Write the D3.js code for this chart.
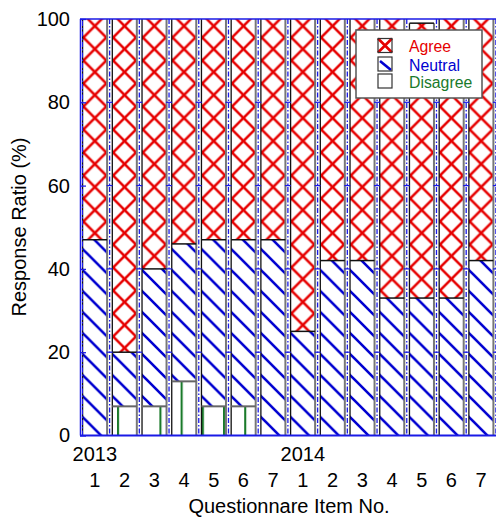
<!DOCTYPE html>
<html><head><meta charset="utf-8">
<script src="https://cdn.jsdelivr.net/npm/d3@7"></script>
<style>body{margin:0;background:#fff;} svg{display:block;font-family:"Liberation Sans",Arial,sans-serif;}</style>
</head><body>
<script>
const items = ['1','2','3','4','5','6','7','1','2','3','4','5','6','7'];
const years = ['2013','2014'];
const yearStart = [0, 7];
const disagree = [0,7,7,13,7,7,0, 0,0,0,0,0,0,0];
const neutral  = [47,13,33,33,40,40,47, 25,42,42,33,33,33,42];
const agree    = [53,80,60,54,53,53,53, 75,58,58,67,66,67,58];
const yTicks = [0,20,40,60,80,100];
const seriesNames = ['Agree','Neutral','Disagree'];
const seriesColors = ['#e60000','#0000d0','#1a7a2a'];

const W = 496, H = 521;
const svg = d3.select('body').append('svg').attr('width', W).attr('height', H);
const defs = svg.append('defs');

const idx = d3.range(items.length);
const x = d3.scaleBand().domain(idx).range([80, 496]).paddingInner(0.175).paddingOuter(0.0875);
const y = d3.scaleLinear().domain([0, 100]).range([435.5, 19]);
const bw = x.bandwidth();

// patterns per bar
const sA = 23, sN = 21;
idx.forEach(i => {
  const cx = x(i) + bw / 2;
  const pa = defs.append('pattern').attr('id', 'pa' + i).attr('patternUnits', 'userSpaceOnUse')
    .attr('width', sA).attr('height', sA).attr('x', cx - sA / 2).attr('y', 164 - sA / 2);
  const h = sA / 2;
  pa.append('path').attr('d',
      `M0,0L${sA},${sA}M${-h},${h}L${h},${sA + h}M${h},${-h}L${sA + h},${h}` +
      `M0,${sA}L${sA},0M${-h},${h}L${h},${-h}M${h},${sA + h}L${sA + h},${h}`)
    .attr('stroke', seriesColors[0]).attr('stroke-width', 2.6).attr('fill', 'none');
  const pn = defs.append('pattern').attr('id', 'pn' + i).attr('patternUnits', 'userSpaceOnUse')
    .attr('width', sN).attr('height', sN).attr('x', x(i) + 3).attr('y', 0);
  const hn = sN / 2;
  pn.append('path').attr('d', `M0,0L${sN},${sN}M${-hn},${hn}L${hn},${sN + hn}M${hn},${-hn}L${sN + hn},${hn}`)
    .attr('stroke', seriesColors[1]).attr('stroke-width', 2.6).attr('fill', 'none');
});
const pd = defs.append('pattern').attr('id', 'pd').attr('patternUnits', 'userSpaceOnUse')
  .attr('width', 21.2).attr('height', 10).attr('x', 117).attr('y', 0);
pd.append('line').attr('x1', 1).attr('x2', 1).attr('y1', -1).attr('y2', 11)
  .attr('stroke', seriesColors[2]).attr('stroke-width', 2.2);

const g = svg.append('g');
// segments
idx.forEach(i => {
  const d0 = disagree[i], n1 = d0 + neutral[i], t = n1 + agree[i];
  if (d0 > 0) g.append('rect').attr('x', x(i)).attr('width', bw).attr('y', y(d0)).attr('height', y(0) - y(d0)).attr('fill', 'url(#pd)');
  g.append('rect').attr('x', x(i)).attr('width', bw).attr('y', y(n1)).attr('height', y(d0) - y(n1)).attr('fill', `url(#pn${i})`);
  g.append('rect').attr('x', x(i)).attr('width', bw).attr('y', y(t)).attr('height', y(n1) - y(t)).attr('fill', `url(#pa${i})`);
  // outlines
  g.append('line').attr('x1', x(i)).attr('x2', x(i)).attr('y1', y(0)).attr('y2', y(t)).attr('stroke', '#111').attr('stroke-width', 1.3);
  g.append('line').attr('x1', x(i) + bw).attr('x2', x(i) + bw).attr('y1', y(0)).attr('y2', y(t)).attr('stroke', '#777').attr('stroke-width', 2);
  g.append('line').attr('x1', x(i)).attr('x2', x(i) + bw).attr('y1', y(n1)).attr('y2', y(n1)).attr('stroke', '#111').attr('stroke-width', 1.5);
  if (d0 > 0) g.append('line').attr('x1', x(i)).attr('x2', x(i) + bw).attr('y1', y(d0)).attr('y2', y(d0)).attr('stroke', '#666').attr('stroke-width', 2);
  if (t < 100) g.append('line').attr('x1', x(i)).attr('x2', x(i) + bw).attr('y1', y(t)).attr('y2', y(t)).attr('stroke', '#111').attr('stroke-width', 1.5);
});

// blue dashed separators with small ticks
idx.forEach(i => {
  const lx = x(i) + bw + 2.5;
  g.append('line').attr('x1', lx).attr('x2', lx).attr('y1', y(100)).attr('y2', y(0))
    .attr('stroke', '#1a1ae6').attr('stroke-width', 1.3).attr('stroke-dasharray', '5,2,1.5,2');
  yTicks.slice(1, -1).forEach(v => {
    g.append('line').attr('x1', lx - 3).attr('x2', lx + 3).attr('y1', y(v)).attr('y2', y(v))
      .attr('stroke', '#1a1ae6').attr('stroke-width', 1.2);
  });
});

// frame
const fr = svg.append('g').attr('stroke', '#1a1ae6').attr('fill', 'none');
fr.append('line').attr('x1', 80).attr('x2', 496).attr('y1', y(0)).attr('y2', y(0)).attr('stroke-width', 2);
fr.append('line').attr('x1', 80).attr('x2', 496).attr('y1', y(100)).attr('y2', y(100)).attr('stroke-width', 1.5);
fr.append('line').attr('x1', 80.5).attr('x2', 80.5).attr('y1', y(0)).attr('y2', y(100)).attr('stroke-width', 1.5);
fr.append('line').attr('x1', 82.5).attr('x2', 82.5).attr('y1', y(0)).attr('y2', y(100)).attr('stroke-width', 1).attr('stroke-dasharray', '5,2,1.5,2');

// y axis
const yAxis = d3.axisLeft(y).tickValues(yTicks).tickSize(-6).tickPadding(10);
const ya = svg.append('g').attr('transform', 'translate(80,0)').call(yAxis);
ya.select('.domain').remove();
ya.selectAll('.tick line').attr('stroke', '#1a1ae6').attr('stroke-width', 1.3);
ya.selectAll('.tick text').attr('font-size', 20).attr('fill', '#000').attr('font-family', '"Liberation Sans",Arial,sans-serif');

// x labels
const xa = svg.append('g');
xa.selectAll('text.item').data(idx).join('text').attr('class', 'item')
  .attr('x', i => x(i) + bw / 2).attr('y', 487).attr('text-anchor', 'middle')
  .attr('font-size', 20).text(i => items[i]);
xa.selectAll('text.year').data(years).join('text').attr('class', 'year')
  .attr('x', (d, k) => x(yearStart[k]) + bw / 2).attr('y', 461).attr('text-anchor', 'middle')
  .attr('font-size', 20).text(d => d);

svg.append('text').attr('x', 289).attr('y', 513).attr('text-anchor', 'middle').attr('font-size', 20).text('Questionnare Item No.');
svg.append('text').attr('transform', 'translate(26,227) rotate(-90)').attr('text-anchor', 'middle').attr('font-size', 20).text('Response Ratio (%)');

// legend
const lg = svg.append('g');
lg.append('rect').attr('x', 356).attr('y', 30).attr('width', 126).attr('height', 68).attr('fill', '#fff').attr('stroke', '#555').attr('stroke-width', 1.5);
const sw = [38.5, 57, 74];
seriesNames.forEach((name, k) => {
  const sy = sw[k];
  const gr = lg.append('g');
  if (k === 0) {
    gr.append('path').attr('d', `M378,${sy}L392,${sy + 14}M378,${sy + 14}L392,${sy}`).attr('stroke', seriesColors[0]).attr('stroke-width', 2.6);
  } else if (k === 1) {
    gr.append('path').attr('d', `M380,${sy + 4}L391,${sy + 13}`).attr('stroke', seriesColors[1]).attr('stroke-width', 2.6);
  }
  gr.append('rect').attr('x', 378).attr('y', sy).attr('width', 14).attr('height', 14).attr('fill', 'none').attr('stroke', '#333').attr('stroke-width', 1.2);
  lg.append('text').attr('x', 409).attr('y', sy + 13.5).attr('font-size', 15.8).attr('fill', seriesColors[k]).text(name);
});
</script>
</body></html>
